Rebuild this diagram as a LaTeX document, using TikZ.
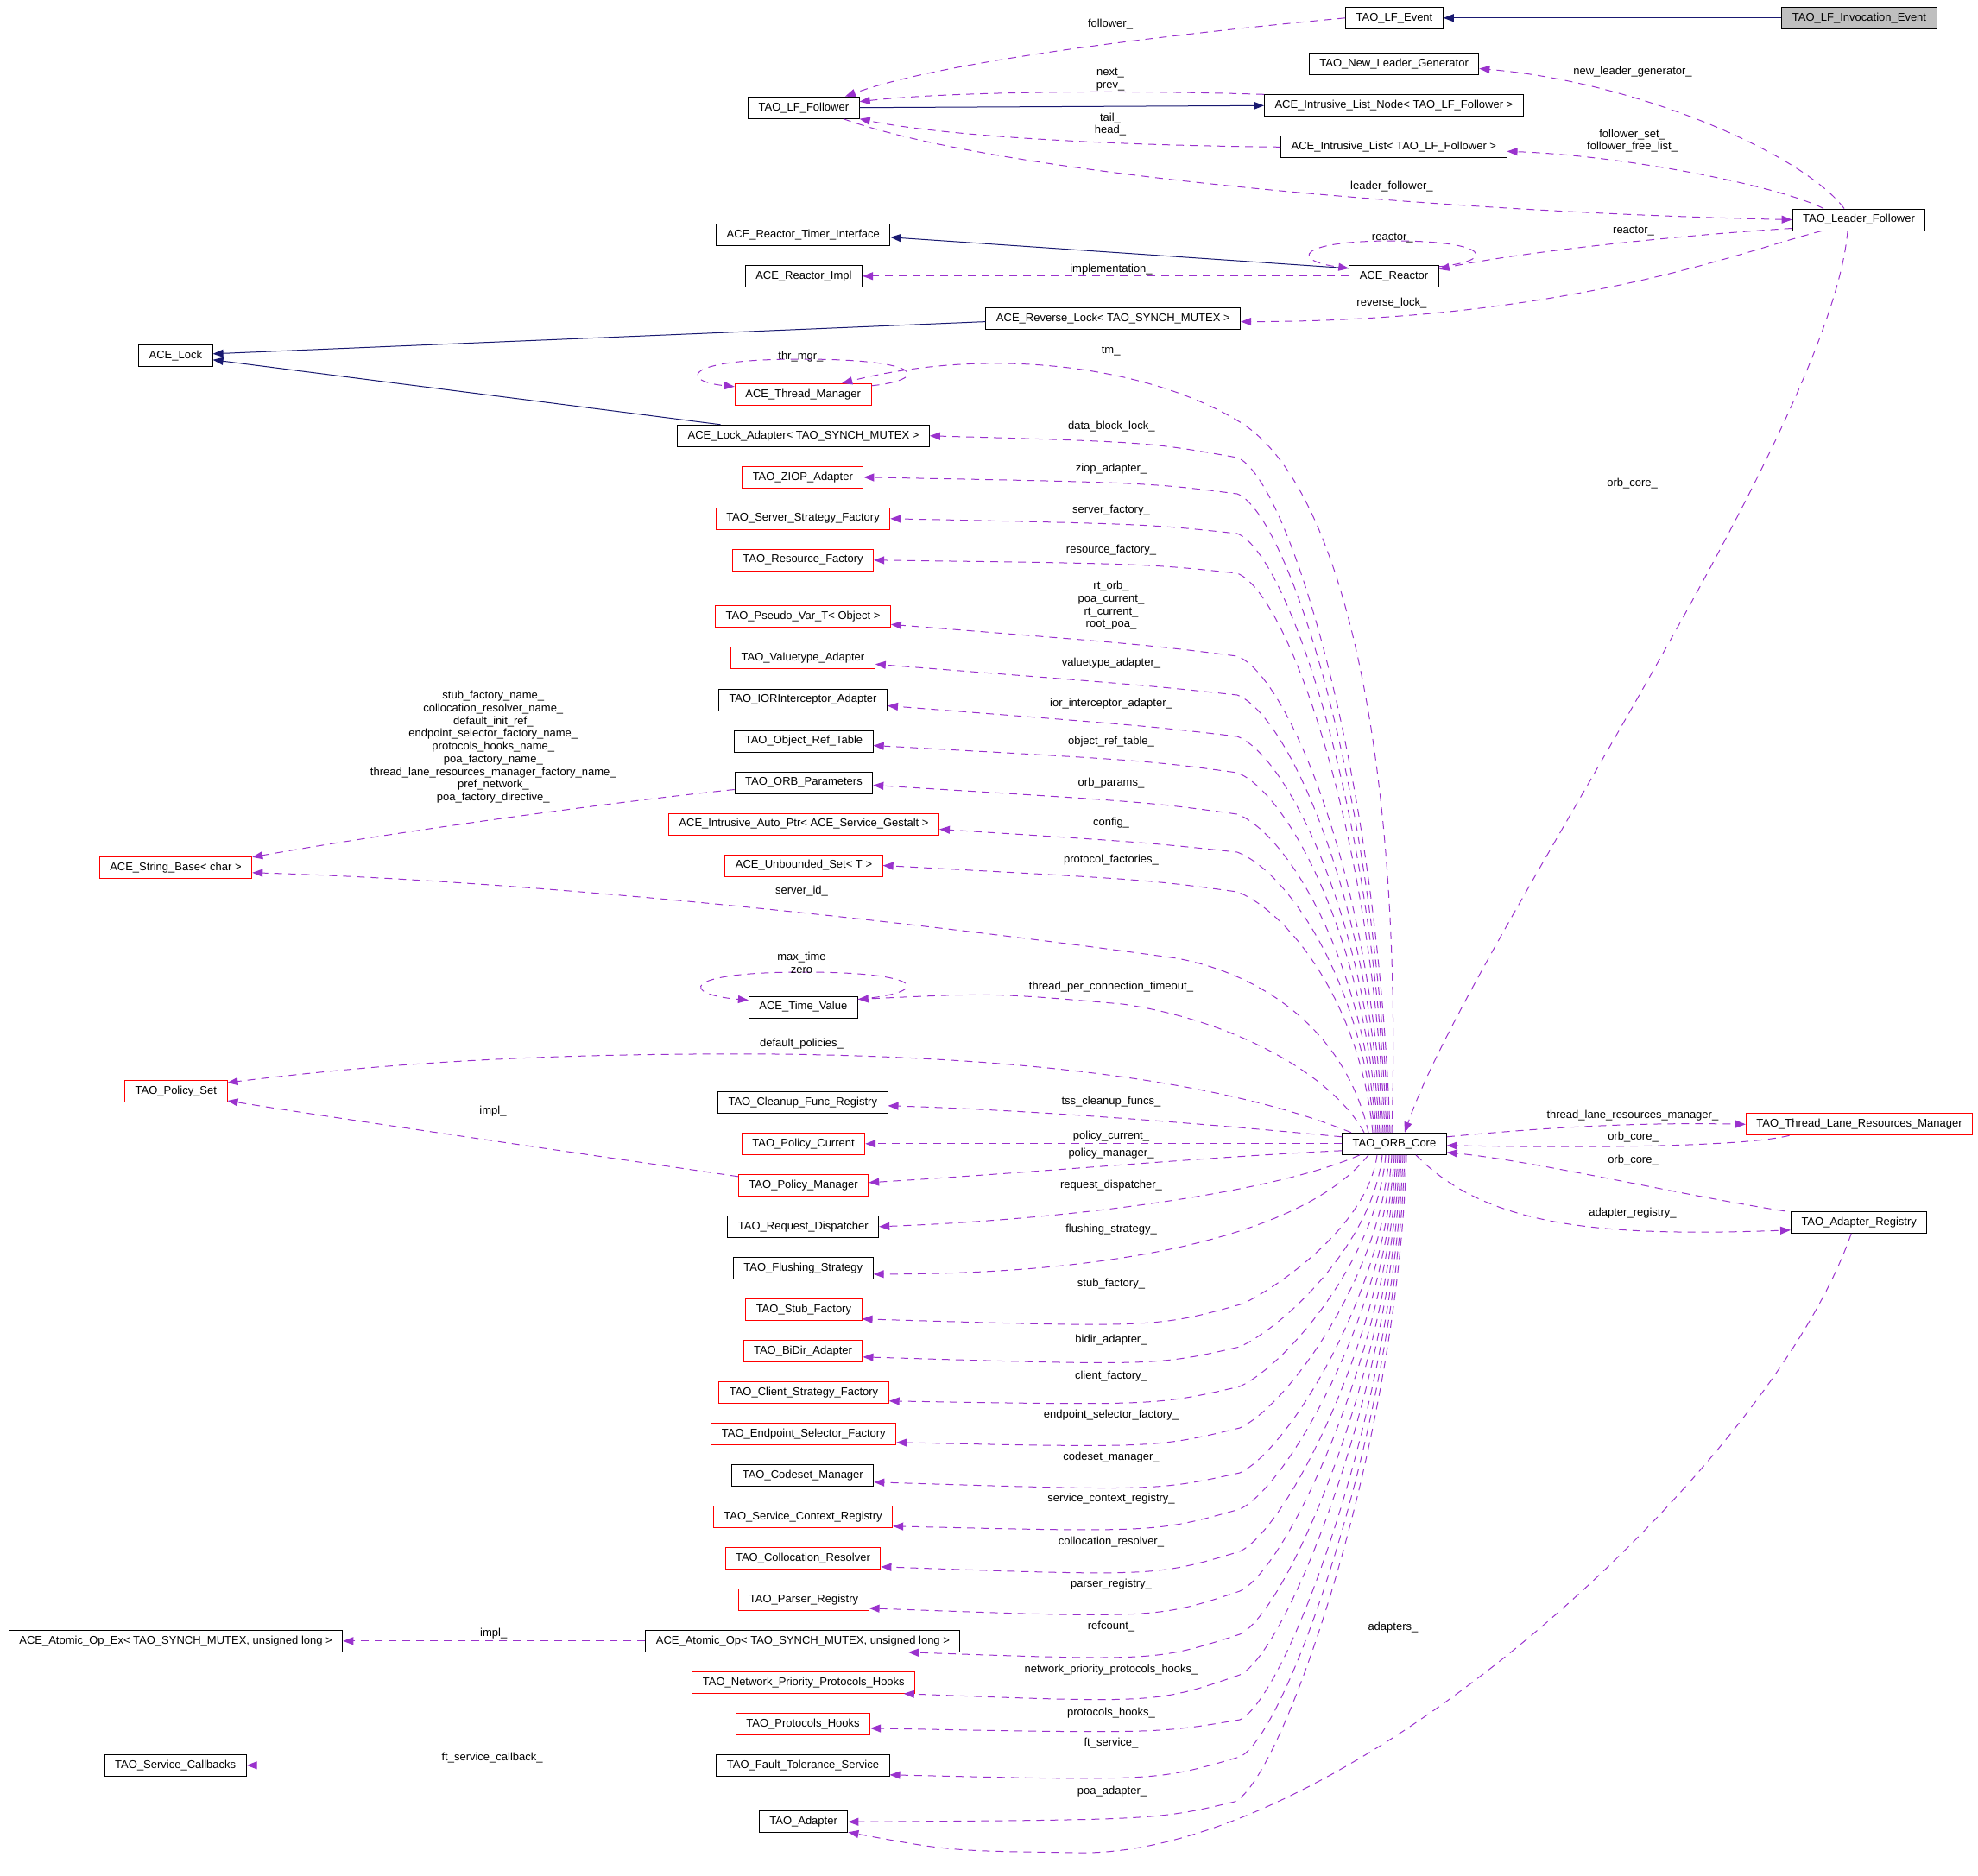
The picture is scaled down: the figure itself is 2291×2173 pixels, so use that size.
\documentclass[tikz,border=0pt]{standalone}
\usepackage{fontspec}
\setmainfont{Liberation Sans}
\usetikzlibrary{arrows.meta}
\definecolor{inhcol}{HTML}{191970}
\definecolor{memcol}{HTML}{9A32CD}
\newcommand{\dxfont}{\fontsize{13}{14.7}\selectfont}

\begin{document}
\begin{tikzpicture}[
            x=1pt, y=-1pt,
            cls/.style={draw=black, fill=white, line width=1pt, minimum height=25pt, inner xsep=12pt, inner ysep=0pt, font=\dxfont},
            clsred/.style={cls, draw=red},
            clsself/.style={cls, fill=black!25},
            lbl/.style={font=\dxfont, align=center, inner sep=0pt},
            inherit/.style={-{Triangle[length=12pt,width=9pt]}, draw=inhcol, line width=1pt},
            member/.style={-{Triangle[length=12pt,width=9pt]}, draw=memcol, line width=1pt, dash pattern=on 9pt off 7pt}
        ]
        \useasboundingbox (0,0) rectangle (2291,2173);

        \node[clsself] (lf_inv) at (2153.5,20.8) {TAO\_LF\_Invocation\_Event};
        \node[cls] (leader) at (2153,254.5) {TAO\_Leader\_Follower};
        \node[clsred] (tlrm) at (2153.5,1302.3) {TAO\_Thread\_Lane\_Resources\_Manager};
        \node[cls] (ad_reg) at (2153.2,1415.8) {TAO\_Adapter\_Registry};

        \node[cls] (lf_event) at (1615,20.8) {TAO\_LF\_Event};
        \node[cls] (new_leader) at (1614.6,74.5) {TAO\_New\_Leader\_Generator};
        \node[cls] (list_node) at (1614.4,122.3) {ACE\_Intrusive\_List\_Node< TAO\_LF\_Follower >};
        \node[cls] (int_list) at (1614.3,170.3) {ACE\_Intrusive\_List< TAO\_LF\_Follower >};
        \node[cls] (reactor) at (1614.5,319.8) {ACE\_Reactor};
        \node[cls] (rev_lock) at (1289.3,368.6) {ACE\_Reverse\_Lock< TAO\_SYNCH\_MUTEX >};
        \node[cls] (orb) at (1615,1324.8) {TAO\_ORB\_Core};

        \node[cls] (follower) at (930.9,124.7) {TAO\_LF\_Follower};
        \node[cls] (timer_if) at (930.2,271.8) {ACE\_Reactor\_Timer\_Interface};
        \node[cls] (reactor_impl) at (930.9,319.8) {ACE\_Reactor\_Impl};
        \node[clsred] (thr_mgr) at (930.2,456.8) {ACE\_Thread\_Manager};
        \node[cls] (lock_adapter) at (930.5,504.8) {ACE\_Lock\_Adapter< TAO\_SYNCH\_MUTEX >};
        \node[clsred] (ziop) at (929.8,552.8) {TAO\_ZIOP\_Adapter};
        \node[clsred] (ssf) at (930,600.8) {TAO\_Server\_Strategy\_Factory};
        \node[clsred] (res_f) at (930,648.8) {TAO\_Resource\_Factory};
        \node[clsred] (pseudo) at (930,714.3) {TAO\_Pseudo\_Var\_T< Object >};
        \node[clsred] (valuetype) at (930,762.3) {TAO\_Valuetype\_Adapter};
        \node[cls] (ior_int) at (930,810.5) {TAO\_IORInterceptor\_Adapter};
        \node[cls] (obj_ref) at (931,858.5) {TAO\_Object\_Ref\_Table};
        \node[cls] (orb_params) at (931,906.5) {TAO\_ORB\_Parameters};
        \node[clsred] (auto_ptr) at (931,954.5) {ACE\_Intrusive\_Auto\_Ptr< ACE\_Service\_Gestalt >};
        \node[clsred] (uset) at (931,1002.5) {ACE\_Unbounded\_Set< T >};
        \node[cls] (time_val) at (930.3,1166.5) {ACE\_Time\_Value};
        \node[cls] (cleanup) at (929.8,1276.8) {TAO\_Cleanup\_Func\_Registry};
        \node[clsred] (pol_cur) at (930.6,1324.8) {TAO\_Policy\_Current};
        \node[clsred] (pol_man) at (930.6,1372.8) {TAO\_Policy\_Manager};
        \node[cls] (req_disp) at (930.3,1420.8) {TAO\_Request\_Dispatcher};
        \node[cls] (flushing) at (930.3,1468.8) {TAO\_Flushing\_Strategy};
        \node[clsred] (stub_f) at (930.9,1516.8) {TAO\_Stub\_Factory};
        \node[clsred] (bidir) at (930,1564.8) {TAO\_BiDir\_Adapter};
        \node[clsred] (csf) at (931,1612.8) {TAO\_Client\_Strategy\_Factory};
        \node[clsred] (esf) at (930.8,1660.8) {TAO\_Endpoint\_Selector\_Factory};
        \node[cls] (codeset) at (929.8,1708.8) {TAO\_Codeset\_Manager};
        \node[clsred] (scr) at (930,1756.8) {TAO\_Service\_Context\_Registry};
        \node[clsred] (coll_res) at (930,1804.8) {TAO\_Collocation\_Resolver};
        \node[clsred] (parser) at (931,1852.8) {TAO\_Parser\_Registry};
        \node[cls] (atomic) at (929.9,1900.8) {ACE\_Atomic\_Op< TAO\_SYNCH\_MUTEX, unsigned long >};
        \node[clsred] (np_hooks) at (930.8,1948.8) {TAO\_Network\_Priority\_Protocols\_Hooks};
        \node[clsred] (p_hooks) at (930,1996.8) {TAO\_Protocols\_Hooks};
        \node[cls] (fts) at (930,2044.8) {TAO\_Fault\_Tolerance\_Service};
        \node[cls] (adapter) at (930.6,2110.3) {TAO\_Adapter};

        \node[cls] (ace_lock) at (203.4,411.8) {ACE\_Lock};
        \node[clsred] (str_base) at (203.5,1004.8) {ACE\_String\_Base< char >};
        \node[clsred] (pol_set) at (203.8,1264) {TAO\_Policy\_Set};
        \node[cls] (atomic_ex) at (203.6,1900.8) {ACE\_Atomic\_Op\_Ex< TAO\_SYNCH\_MUTEX, unsigned long >};
        \node[cls] (svc_cb) at (203.2,2044.8) {TAO\_Service\_Callbacks};

        \draw[inherit] (lf_inv) -- (lf_event);
        \draw[inherit] (follower.east) -- (list_node.west);
        \draw[inherit] ([yshift=-4pt]reactor.north west) -- ([yshift=-3pt]timer_if.east);
        \draw[inherit] ([yshift=-4pt]rev_lock.west) -- ([yshift=2pt]ace_lock.east);
        \draw[inherit] ([xshift=-96pt]lock_adapter.north) -- ([yshift=-5pt]ace_lock.east);

        \draw[member] (lf_event.west) .. controls (1300,45) and (1080,75) .. ([xshift=48pt]follower.north);
        \draw[member] (list_node.north west) .. controls (1300,104) and (1100,106) .. ([yshift=7pt]follower.east);
        \draw[member] (int_list.west) .. controls (1250,168) and (1080,155) .. (follower.south east);
        \draw[member] ([xshift=46pt]follower.south) .. controls (1150,200) and (1650,245) .. (leader.west);
        \draw[member] ([xshift=-17pt]leader.north) .. controls (2090,180) and (1900,95) .. ([yshift=-5pt]new_leader.east);
        \draw[member] ([xshift=-41pt]leader.north) .. controls (2060,215) and (1880,180) .. ([yshift=-5pt]int_list.east);
        \draw[member] ([yshift=-10pt]leader.west) .. controls (1950,272) and (1760,292) .. ([yshift=8pt]reactor.east);
        \draw[member] ([yshift=-2pt]reactor.north east) .. controls (1735,302) and (1725,279) .. (1614,279) .. controls (1500,279) and (1495,302) .. ([yshift=-4pt]reactor.north west);
        \draw[member] (reactor.west) -- (reactor_impl.east);
        \draw[member] ([xshift=-43pt]leader.south) .. controls (2020,290) and (1820,372) .. ([yshift=-4pt]rev_lock.east);
        \draw[member] ([xshift=-13pt]leader.south) .. controls (2120,500) and (1700,1100) .. ([xshift=12pt]orb.north);

        \draw[member] ([yshift=-3pt]thr_mgr.north east) .. controls (1075,440) and (1075,416) .. (927,416) .. controls (785,416) and (790,442) .. ([yshift=-4pt]thr_mgr.north west);
        \draw[member] ([xshift=-3pt]orb.north) .. controls (1625,900) and (1560,560) .. (1433,487) .. controls (1330,425) and (1150,400) .. ([xshift=45pt]thr_mgr.north);
        \draw[member] ([xshift=-5pt]orb.north) .. controls (1595,882) and (1490,552) .. (1433,530) .. controls (1330,512) .. (lock_adapter.east);
        \draw[member] ([xshift=-7pt]orb.north) .. controls (1593,905) and (1490,594) .. (1433,572) .. controls (1330,559) .. (ziop.east);
        \draw[member] ([xshift=-9pt]orb.north) .. controls (1591,930) and (1490,640) .. (1433,618) .. controls (1330,607) .. (ssf.east);
        \draw[member] ([xshift=-11pt]orb.north) .. controls (1589,956) and (1490,686) .. (1433,664) .. controls (1330,653) .. (res_f.east);
        \draw[member] ([xshift=-13pt]orb.north) .. controls (1587,1008) and (1490,782) .. (1433,760) .. controls (1330,747) .. ([yshift=-9pt]pseudo.east);
        \draw[member] ([xshift=-15pt]orb.north) .. controls (1585,1033) and (1490,827) .. (1433,805) .. controls (1330,794) .. ([yshift=-7pt]valuetype.east);
        \draw[member] ([xshift=-17pt]orb.north) .. controls (1583,1060) and (1490,875) .. (1433,853) .. controls (1330,841) .. ([yshift=-7pt]ior_int.east);
        \draw[member] ([xshift=-19pt]orb.north) .. controls (1581,1083) and (1490,917) .. (1433,895) .. controls (1330,881) .. ([yshift=-5pt]obj_ref.east);
        \draw[member] ([xshift=-21pt]orb.north) .. controls (1579,1109) and (1490,965) .. (1433,943) .. controls (1330,929) .. ([yshift=-3pt]orb_params.east);
        \draw[member] ([xshift=-23pt]orb.north) .. controls (1577,1133) and (1490,1009) .. (1433,987) .. controls (1330,976) .. ([yshift=-6pt]auto_ptr.east);
        \draw[member] ([xshift=-25pt]orb.north) .. controls (1575,1159) and (1490,1055) .. (1433,1033) .. controls (1330,1019) .. (uset.east);
        \draw[member] ([yshift=-8pt]orb_params.west) .. controls (700,930) and (450,965) .. ([yshift=12pt]str_base.east);
        \draw[member] ([xshift=-30pt]orb.north) .. controls (1560,1200) and (1470,1130) .. (1363,1110) .. controls (1000,1060) and (600,1020) .. ([yshift=-6pt]str_base.east);
        \draw[member] ([yshift=-4pt]time_val.north east) .. controls (1080,1150) and (1075,1126) .. (930,1126) .. controls (785,1126) and (790,1152) .. ([yshift=-5pt]time_val.north west);
        \draw[member] ([xshift=-35pt]orb.north) .. controls (1540,1240) and (1420,1180) .. (1300,1163) .. controls (1150,1150) .. ([yshift=9pt]time_val.east);
        \draw[member] ([xshift=-50pt]orb.north) .. controls (1450,1265) and (1250,1225) .. (900,1221) .. controls (600,1219) and (420,1235) .. ([yshift=10pt]pol_set.east);
        \draw[member] ([yshift=10pt]pol_man.west) .. controls (700,1340) and (420,1300) .. ([yshift=-11pt]pol_set.east);
        \draw[member] ([yshift=8pt]orb.west) .. controls (1400,1302) and (1200,1286) .. ([yshift=-4pt]cleanup.east);
        \draw[member] (orb.west) -- (pol_cur.east);
        \draw[member] ([yshift=-8pt]orb.west) .. controls (1400,1340) and (1200,1358) .. ([yshift=3pt]pol_man.east);

        \draw[member] ([xshift=-40pt]orb.south) .. controls (1480,1380) and (1250,1412) .. (req_disp.east);
        \draw[member] ([xshift=-30pt]orb.south) .. controls (1520,1420) and (1330,1476) .. ([yshift=-7pt]flushing.east);
        \draw[member] ([xshift=-20pt]orb.south) .. controls (1585,1415) and (1490,1485) .. (1440,1510) .. controls (1340,1538) .. ([yshift=-11pt]stub_f.east);
        \draw[member] ([xshift=-14pt]orb.south) .. controls (1591,1437) and (1490,1535) .. (1436,1560) .. controls (1340,1582) .. ([yshift=-7pt]bidir.east);
        \draw[member] ([xshift=-10pt]orb.south) .. controls (1595,1458) and (1490,1581) .. (1436,1606) .. controls (1340,1628) .. ([yshift=-10pt]csf.east);
        \draw[member] ([xshift=-6pt]orb.south) .. controls (1599,1480) and (1490,1629) .. (1436,1654) .. controls (1340,1677) .. ([yshift=-10pt]esf.east);
        \draw[member] ([xshift=-3pt]orb.south) .. controls (1602,1503) and (1490,1681) .. (1436,1706) .. controls (1340,1727) .. ([yshift=-8pt]codeset.east);
        \draw[member] (orb.south) .. controls (1605,1522) and (1490,1723) .. (1436,1748) .. controls (1340,1775) .. ([yshift=-11pt]scr.east);
        \draw[member] ([xshift=2pt]orb.south) .. controls (1607,1544) and (1490,1772) .. (1436,1797) .. controls (1340,1826) .. ([yshift=-10pt]coll_res.east);
        \draw[member] ([xshift=4pt]orb.south) .. controls (1609,1565) and (1490,1818) .. (1436,1843) .. controls (1340,1875) .. ([yshift=-10pt]parser.east);
        \draw[member] ([xshift=6pt]orb.south) .. controls (1611,1587) and (1490,1868) .. (1436,1893) .. controls (1340,1924) .. ([xshift=122pt]atomic.south);
        \draw[member] ([xshift=8pt]orb.south) .. controls (1613,1608) and (1490,1915) .. (1436,1940) .. controls (1340,1973) .. ([xshift=116pt]np_hooks.south);
        \draw[member] ([xshift=10pt]orb.south) .. controls (1615,1632) and (1490,1967) .. (1436,1992) .. controls (1340,2008) .. ([yshift=-5pt]p_hooks.east);
        \draw[member] ([xshift=12pt]orb.south) .. controls (1617,1651) and (1490,2010) .. (1436,2035) .. controls (1340,2063) .. ([yshift=-11pt]fts.east);
        \draw[member] ([xshift=14pt]orb.south) .. controls (1619,1675) and (1485,2062) .. (1430,2087) .. controls (1340,2108) .. (adapter.east);
        \draw[member] ([xshift=-9pt]ad_reg.south) .. controls (2050,1700) and (1560,2150) .. (1250,2146) .. controls (1100,2144) .. ([yshift=-12pt]adapter.east);
        \draw[member] (atomic.west) -- (atomic_ex.east);
        \draw[member] (fts.west) -- (svc_cb.east);

        \draw[member] ([yshift=8pt]orb.east) .. controls (1800,1305) and (1900,1300) .. (tlrm.west);
        \draw[member] ([xshift=-81pt]tlrm.south) .. controls (2020,1328) and (1850,1330) .. ([yshift=-2pt]orb.east);
        \draw[member] ([xshift=-86pt]ad_reg.north) .. controls (1950,1385) and (1780,1345) .. ([yshift=-10pt]orb.east);
        \draw[member] ([xshift=25pt]orb.south) .. controls (1720,1420) and (1850,1433) .. ([yshift=-9pt]ad_reg.west);

        \node[lbl] at (1286,28.3) {follower\_};
        \node[lbl] at (1286,92) {next\_\\prev\_};
        \node[lbl] at (1286,144) {tail\_\\head\_};
        \node[lbl] at (1891,83.3) {new\_leader\_generator\_};
        \node[lbl] at (1890.6,163) {follower\_set\_\\follower\_free\_list\_};
        \node[lbl] at (1611.9,215.7) {leader\_follower\_};
        \node[lbl] at (1892,267.7) {reactor\_};
        \node[lbl] at (1612.8,276) {reactor\_};
        \node[lbl] at (1287,311.7) {implementation\_};
        \node[lbl] at (1611.9,350.7) {reverse\_lock\_};
        \node[lbl] at (1890.6,559.6) {orb\_core\_};
        \node[lbl] at (927.4,412.7) {thr\_mgr\_};
        \node[lbl] at (1286.7,406.7) {tm\_};
        \node[lbl] at (1287.3,494.3) {data\_block\_lock\_};
        \node[lbl] at (1287,542.7) {ziop\_adapter\_};
        \node[lbl] at (1287,590.7) {server\_factory\_};
        \node[lbl] at (1287,636.7) {resource\_factory\_};
        \node[lbl] at (1287,701.5) {rt\_orb\_\\poa\_current\_\\rt\_current\_\\root\_poa\_};
        \node[lbl] at (1287,767.7) {valuetype\_adapter\_};
        \node[lbl] at (1287,815.3) {ior\_interceptor\_adapter\_};
        \node[lbl] at (1287,859.3) {object\_ref\_table\_};
        \node[lbl] at (1287,906.7) {orb\_params\_};
        \node[lbl] at (1287,952.7) {config\_};
        \node[lbl] at (1287,995.7) {protocol\_factories\_};
        \node[lbl] at (571.3,865.3) {stub\_factory\_name\_\\collocation\_resolver\_name\_\\default\_init\_ref\_\\endpoint\_selector\_factory\_name\_\\protocols\_hooks\_name\_\\poa\_factory\_name\_\\thread\_lane\_resources\_manager\_factory\_name\_\\pref\_network\_\\poa\_factory\_directive\_};
        \node[lbl] at (928.5,1031.7) {server\_id\_};
        \node[lbl] at (928.5,1115.2) {max\_time\\zero};
        \node[lbl] at (1287,1142.7) {thread\_per\_connection\_timeout\_};
        \node[lbl] at (928.5,1209) {default\_policies\_};
        \node[lbl] at (571,1287) {impl\_};
        \node[lbl] at (1287,1275.7) {tss\_cleanup\_funcs\_};
        \node[lbl] at (1287,1315.7) {policy\_current\_};
        \node[lbl] at (1287,1335.7) {policy\_manager\_};
        \node[lbl] at (1287,1372.7) {request\_dispatcher\_};
        \node[lbl] at (1287,1424.3) {flushing\_strategy\_};
        \node[lbl] at (1287,1486.7) {stub\_factory\_};
        \node[lbl] at (1287,1551.7) {bidir\_adapter\_};
        \node[lbl] at (1287,1594.6) {client\_factory\_};
        \node[lbl] at (1287,1639.3) {endpoint\_selector\_factory\_};
        \node[lbl] at (1287,1687.8) {codeset\_manager\_};
        \node[lbl] at (1287,1736.4) {service\_context\_registry\_};
        \node[lbl] at (1287,1786.3) {collocation\_resolver\_};
        \node[lbl] at (1287,1835.6) {parser\_registry\_};
        \node[lbl] at (1287,1884.5) {refcount\_};
        \node[lbl] at (1287,1934.5) {network\_priority\_protocols\_hooks\_};
        \node[lbl] at (1287,1984.5) {protocols\_hooks\_};
        \node[lbl] at (1287,2019.4) {ft\_service\_};
        \node[lbl] at (1288,2075) {poa\_adapter\_};
        \node[lbl] at (1613.4,1885) {adapters\_};
        \node[lbl] at (571.7,1892.3) {impl\_};
        \node[lbl] at (570.1,2035.7) {ft\_service\_callback\_};
        \node[lbl] at (1890.9,1291.7) {thread\_lane\_resources\_manager\_};
        \node[lbl] at (1891.5,1317) {orb\_core\_};
        \node[lbl] at (1891.5,1344) {orb\_core\_};
        \node[lbl] at (1891,1404.7) {adapter\_registry\_};

        \end{tikzpicture}
\end{document}
